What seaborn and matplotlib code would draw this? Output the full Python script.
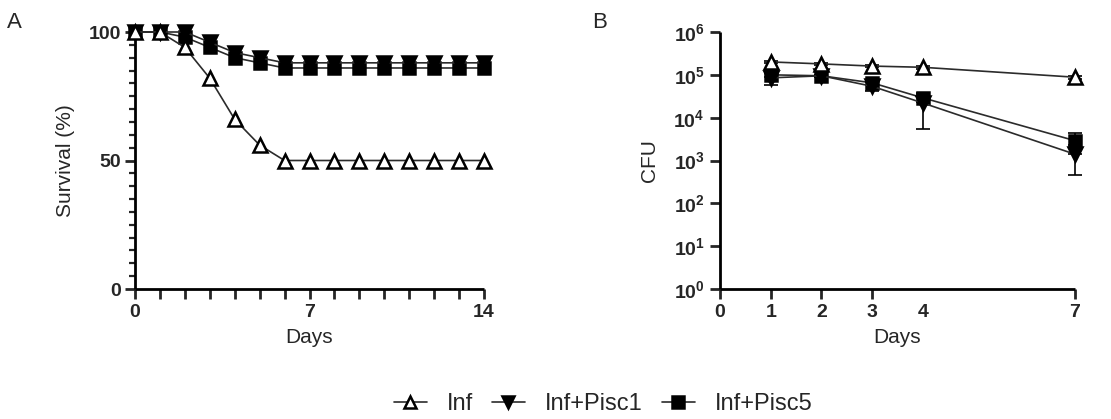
import numpy as np
import pandas as pd
import matplotlib
matplotlib.use("Agg")
import matplotlib.pyplot as plt
from matplotlib.ticker import FixedLocator, NullFormatter
from matplotlib.lines import Line2D
import seaborn as sns

sns.set_theme(style="ticks")
plt.rcParams["font.family"] = ["Liberation Sans", "DejaVu Sans"]
plt.rcParams["mathtext.fontset"] = "custom"
plt.rcParams["mathtext.rm"] = "Liberation Sans"
plt.rcParams["mathtext.bf"] = "Liberation Sans:bold"

# ---- Panel A: survival (%) over 14 days ----
days_a = list(range(15))
surv_inf = [100, 100, 94, 82, 66, 56, 50, 50, 50, 50, 50, 50, 50, 50, 50]
surv_pisc1 = [100, 100, 100, 96, 92, 90, 88, 88, 88, 88, 88, 88, 88, 88, 88]
surv_pisc5 = [100, 100, 98, 94, 90, 88, 86, 86, 86, 86, 86, 86, 86, 86, 86]

# ---- Panel B: CFU (mean and SD) ----
days_b = [1, 2, 3, 4, 7]
cfu_inf = [2.0e5, 1.8e5, 1.6e5, 1.5e5, 8.8e4]
cfu_pisc1 = [8.5e4, 9.5e4, 5.4e4, 2.2e4, 1.4e3]
cfu_pisc5 = [1.0e5, 9.5e4, 6.5e4, 2.9e4, 2.9e3]
sd_inf = [1.5e4, 1.2e4, 1.0e4, 1.0e4, 8.0e3]
sd_pisc1 = [2.6e4, 6.0e3, 1.3e4, 1.65e4, 9.5e2]
sd_pisc5 = [1.2e4, 6.0e3, 8.0e3, 6.0e3, 1.5e3]

groups = ["Inf", "Inf+Pisc1", "Inf+Pisc5"]
markers = {"Inf": "^", "Inf+Pisc1": "v", "Inf+Pisc5": "s"}
faces = {"Inf": "white", "Inf+Pisc1": "black", "Inf+Pisc5": "black"}
msize = {"Inf": 10, "Inf+Pisc1": 10, "Inf+Pisc5": 9}
line_c = "#2b2b2b"

df_a = pd.DataFrame({
    "Days": days_a * 3,
    "Survival": surv_inf + surv_pisc1 + surv_pisc5,
    "Group": sum([[g] * len(days_a) for g in groups], []),
})
df_b = pd.DataFrame({
    "Days": days_b * 3,
    "CFU": cfu_inf + cfu_pisc1 + cfu_pisc5,
    "SD": sd_inf + sd_pisc1 + sd_pisc5,
    "Group": sum([[g] * len(days_b) for g in groups], []),
})

W, H = 1111, 419
fig = plt.figure(figsize=(W / 100, H / 100), dpi=100)
ax_a = fig.add_axes([135 / W, 1 - 289 / H, (484 - 135) / W, (289 - 32) / H])
ax_b = fig.add_axes([720 / W, 1 - 289 / H, (1075 - 720) / W, (289 - 32) / H])

spine_w = 2.0
for ax in (ax_a, ax_b):
    ax.set_facecolor("none")
    for s in ("top", "right"):
        ax.spines[s].set_visible(False)
    for s in ("left", "bottom"):
        ax.spines[s].set_linewidth(spine_w)
        ax.spines[s].set_color("black")
        ax.spines[s].set_capstyle("butt")

# draw order: Pisc5 under Pisc1, Inf on top
order = ["Inf+Pisc5", "Inf+Pisc1", "Inf"]
for i, g in enumerate(order):
    sub = df_a[df_a["Group"] == g]
    sns.lineplot(data=sub, x="Days", y="Survival", ax=ax_a, color=line_c,
                 linewidth=1.2, marker=markers[g], markersize=msize[g],
                 markerfacecolor=faces[g], markeredgecolor="black",
                 markeredgewidth=1.8, clip_on=False, zorder=3 + i, legend=False)

ax_a.set_xlim(0, 14)
ax_a.set_ylim(0, 100)
ax_a.xaxis.set_major_locator(FixedLocator([0, 7, 14]))
ax_a.xaxis.set_minor_locator(FixedLocator(days_a))
ax_a.yaxis.set_major_locator(FixedLocator([0, 50, 100]))
ax_a.yaxis.set_minor_locator(FixedLocator(list(range(0, 101, 5))))
ax_a.tick_params(axis="x", which="both", length=7, width=spine_w, direction="out",
                 labelsize=14, pad=4)
ax_a.tick_params(axis="y", which="major", length=7, width=spine_w, labelsize=14, pad=3)
ax_a.tick_params(axis="y", which="minor", length=4, width=spine_w * 0.8)
for lab in ax_a.get_xticklabels() + ax_a.get_yticklabels():
    lab.set_fontweight("bold")
ax_a.set_xlabel("Days", fontsize=15, labelpad=5)
ax_a.set_ylabel("Survival (%)", fontsize=15, labelpad=10)

for i, g in enumerate(order):
    sub = df_b[df_b["Group"] == g]
    ax_b.errorbar(sub["Days"], sub["CFU"], yerr=sub["SD"], fmt="none",
                  ecolor="black", elinewidth=1.2, capsize=5, capthick=1.2,
                  zorder=2 + i, clip_on=False)
    sns.lineplot(data=sub, x="Days", y="CFU", ax=ax_b, color=line_c,
                 linewidth=1.2, marker=markers[g], markersize=msize[g],
                 markerfacecolor=faces[g], markeredgecolor="black",
                 markeredgewidth=1.8, clip_on=False, zorder=3 + i, legend=False)

ax_b.set_yscale("log")
ax_b.set_xlim(0, 7)
ax_b.set_ylim(1, 1e6)
ax_b.xaxis.set_major_locator(FixedLocator([0, 1, 2, 3, 4, 7]))
ax_b.xaxis.set_minor_locator(FixedLocator([]))
ax_b.yaxis.set_major_locator(FixedLocator([10.0 ** k for k in range(7)]))
ax_b.yaxis.set_minor_locator(FixedLocator([]))
ax_b.yaxis.set_minor_formatter(NullFormatter())
ax_b.set_yticklabels([r"$\mathbf{10^{%d}}$" % k for k in range(7)])
ax_b.tick_params(axis="both", which="major", length=7, width=spine_w, labelsize=14, pad=4)
for lab in ax_b.get_xticklabels():
    lab.set_fontweight("bold")
# day 4 carries a label but no tick mark
for t in ax_b.xaxis.get_major_ticks():
    if abs(t.get_loc() - 4) < 1e-9:
        t.tick1line.set_visible(False)
ax_b.set_xlabel("Days", fontsize=15, labelpad=5)
ax_b.set_ylabel("CFU", fontsize=15, labelpad=10)

# panel letters
fig.text(14 / W, 1 - 22 / H, "A", fontsize=16, ha="center", va="center")
fig.text(600 / W, 1 - 22 / H, "B", fontsize=16, ha="center", va="center")

handles = [Line2D([0], [0], color=line_c, linewidth=1.2, marker=markers[g],
                  markersize=msize[g] - 1, markerfacecolor=faces[g],
                  markeredgecolor="black", markeredgewidth=1.8)
           for g in groups]
fig.legend(handles, groups, loc="center", bbox_to_anchor=(603 / W, 1 - 404 / H),
           ncol=3, frameon=False, fontsize=17, handlelength=1.4,
           handletextpad=0.85, columnspacing=0.8)

fig.savefig("out.png", dpi=100)
